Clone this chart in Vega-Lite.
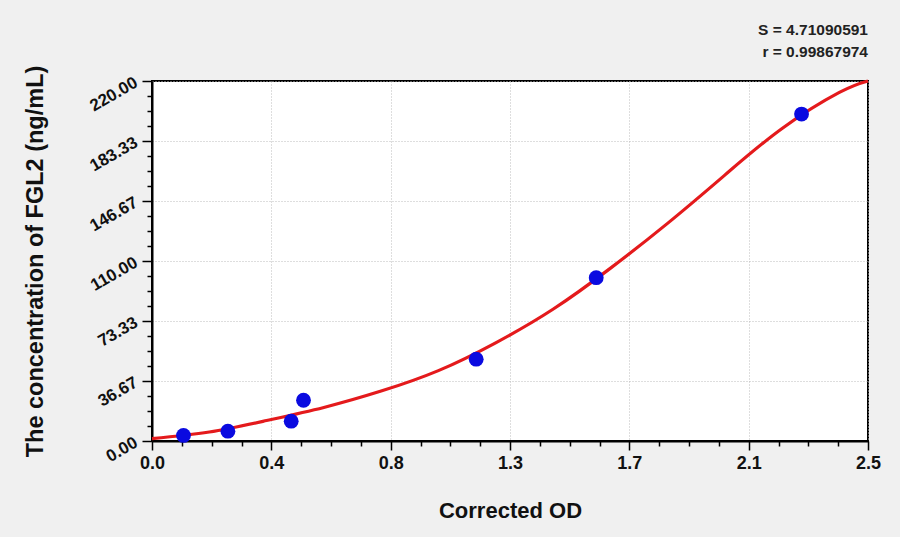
{
  "$schema": "https://vega.github.io/schema/vega-lite/v6.json",
  "width": 716,
  "height": 360,
  "autosize": {"type": "none"},
  "padding": {"left": 152, "top": 81, "right": 32, "bottom": 96},
  "background": "#f0f0f0",
  "title": {
    "text": ["S = 4.71090591", "r = 0.99867974"],
    "anchor": "end",
    "frame": "group",
    "font": "Liberation Sans",
    "fontSize": 15.5,
    "fontWeight": "bold",
    "color": "#222222",
    "lineHeight": 22,
    "offset": 5
  },
  "datasets": {
    "curve": [
      {"od": 0.0, "conc": 1.5},
      {"od": 0.2, "conc": 5.5},
      {"od": 0.4, "conc": 12.5},
      {"od": 0.6, "conc": 20.5},
      {"od": 0.8, "conc": 30.5},
      {"od": 1.0, "conc": 43.0},
      {"od": 1.2, "conc": 60.0},
      {"od": 1.4, "conc": 80.5},
      {"od": 1.6, "conc": 105.5},
      {"od": 1.8, "conc": 133.0},
      {"od": 2.0, "conc": 162.5},
      {"od": 2.2, "conc": 191.0},
      {"od": 2.4, "conc": 213.0},
      {"od": 2.5, "conc": 220.0}
    ],
    "points": [
      {"od": 0.11, "conc": 3.4},
      {"od": 0.265, "conc": 6.0},
      {"od": 0.486, "conc": 12.1},
      {"od": 0.529, "conc": 24.9},
      {"od": 1.132, "conc": 50.0},
      {"od": 1.551, "conc": 99.8},
      {"od": 2.268, "conc": 199.8}
    ]
  },
  "encoding": {
    "x": {
      "field": "od",
      "type": "quantitative",
      "title": "Corrected OD",
      "scale": {"domain": [0, 2.5], "nice": false, "zero": false},
      "axis": {
        "values": [0, 0.104167, 0.208333, 0.3125, 0.416667, 0.520833, 0.625, 0.729167, 0.833333, 0.9375, 1.041667, 1.145833, 1.25, 1.354167, 1.458333, 1.5625, 1.666667, 1.770833, 1.875, 1.979167, 2.083333, 2.1875, 2.291667, 2.395833, 2.5],
        "labelExpr": "abs(datum.value*2.4 - round(datum.value*2.4)) < 0.01 ? format(datum.value, '.1f') : ''",
        "tickSize": {"condition": {"test": "abs(datum.value*2.4 - round(datum.value*2.4)) < 0.01", "value": 9}, "value": 5},
        "gridOpacity": {"condition": {"test": "abs(datum.value*2.4 - round(datum.value*2.4)) < 0.01", "value": 1}, "value": 0},
        "labelFontSize": 18,
        "labelPadding": 4,
        "titleFontSize": 22,
        "titleX": 358,
        "titleY": 69,
        "titleBaseline": "middle"
      }
    },
    "y": {
      "field": "conc",
      "type": "quantitative",
      "title": "The concentration of FGL2 (ng/mL)",
      "scale": {"domain": [0, 220], "nice": false},
      "axis": {
        "values": [0, 9.166667, 18.333333, 27.5, 36.666667, 45.833333, 55, 64.166667, 73.333333, 82.5, 91.666667, 100.833333, 110, 119.166667, 128.333333, 137.5, 146.666667, 155.833333, 165, 174.166667, 183.333333, 192.5, 201.666667, 210.833333, 220],
        "labelExpr": "abs(datum.value*6/220 - round(datum.value*6/220)) < 0.01 ? format(datum.value, '.2f') : ''",
        "tickSize": {"condition": {"test": "abs(datum.value*6/220 - round(datum.value*6/220)) < 0.01", "value": 10}, "value": 5},
        "gridOpacity": {"condition": {"test": "abs(datum.value*6/220 - round(datum.value*6/220)) < 0.01", "value": 1}, "value": 0},
        "labelAngle": -30,
        "labelAlign": "right",
        "labelBaseline": "middle",
        "labelFontSize": 17,
        "labelPadding": 6,
        "titleFontSize": 23.5,
        "titleAngle": -90,
        "titleX": -117,
        "titleY": 180,
        "titleAlign": "center",
        "titleBaseline": "middle"
      }
    }
  },
  "layer": [
    {
      "data": {"name": "curve"},
      "mark": {"type": "line", "color": "#e41a1c", "strokeWidth": 3.2, "interpolate": "natural"}
    },
    {
      "data": {"name": "points"},
      "mark": {"type": "point", "filled": true, "color": "#0a0ae0", "opacity": 1, "size": 220}
    }
  ],
  "config": {
    "font": "Liberation Sans",
    "view": {"fill": "white", "stroke": "black", "strokeWidth": 2},
    "axis": {
      "domainColor": "black",
      "domainWidth": 2,
      "tickColor": "black",
      "tickWidth": 1.5,
      "labelColor": "#111111",
      "labelFontWeight": "bold",
      "labelOverlap": false,
      "labelFlush": false,
      "titleColor": "#111111",
      "titleFontWeight": "bold",
      "grid": true,
      "gridColor": "#bdbdbd",
      "gridDash": [1, 2],
      "gridWidth": 1
    }
  }
}
